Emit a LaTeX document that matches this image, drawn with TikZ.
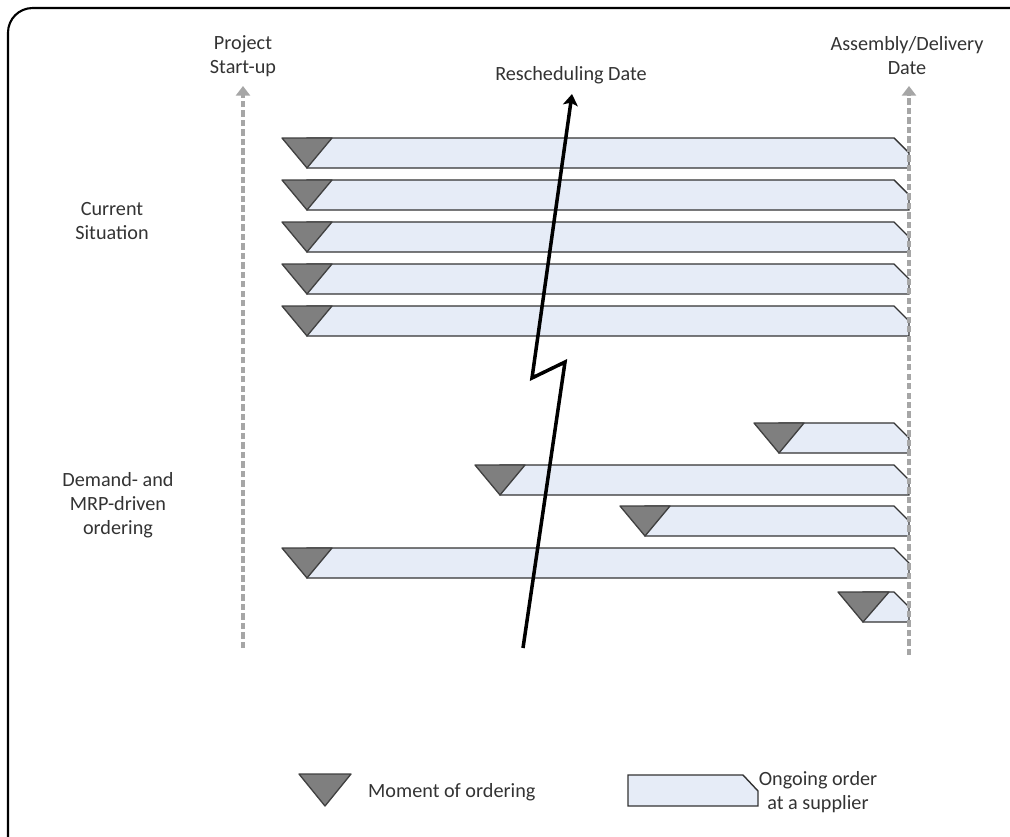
\documentclass[tikz,border=0pt]{standalone}
\usepackage{fontspec}
\setmainfont{Carlito}
\usetikzlibrary{arrows.meta}
\definecolor{barblue}{HTML}{E6ECF7}
\definecolor{markgray}{HTML}{7F7F7F}
\definecolor{txtgray}{HTML}{333333}
\definecolor{axisgray}{HTML}{A6A6A6}
\begin{document}
\begin{tikzpicture}
[x=0.02cm,y=-0.02cm,every node/.style={text=txtgray, align=center, font=\fontsize{11.5}{13.6}\selectfont},
orderbar/.style={draw=black!80, fill=barblue, line width=0.8pt, line join=miter},
ordermark/.style={draw=black!75, fill=markgray, line width=0.75pt, line join=round},
timeaxis/.style={axisgray, line width=2pt, dash pattern=on 3.6pt off 1.8pt, -{Triangle[width=8pt,length=5.5pt]}}]
\useasboundingbox (0,0) rectangle (1010,836);
\draw[line width=1.2pt, rounded corners=14pt] (8,840) -- (8,8) -- (1014,8);
% labels
\node (start) at (243,56) {Project\\Start-up};
\node (deliv) at (907,56) {Assembly/Delivery\\Date};
\node (resched) at (571,75) {Rescheduling Date};
\node (current) at (112,221) {Current\\Situation};
\node (demand) at (118,505) {Demand- and\\MRP-driven\\ordering};
% current situation
\draw[orderbar] (307,138) -- (894,138) -- (909,153) -- (909,168) -- (307,168) -- cycle;
\draw[ordermark] (282,138) -- (332,138) -- (307,168) -- cycle;
\draw[orderbar] (307,180) -- (894,180) -- (909,195) -- (909,210) -- (307,210) -- cycle;
\draw[ordermark] (282,180) -- (332,180) -- (307,210) -- cycle;
\draw[orderbar] (307,222) -- (894,222) -- (909,237) -- (909,252) -- (307,252) -- cycle;
\draw[ordermark] (282,222) -- (332,222) -- (307,252) -- cycle;
\draw[orderbar] (307,264) -- (894,264) -- (909,279) -- (909,294) -- (307,294) -- cycle;
\draw[ordermark] (282,264) -- (332,264) -- (307,294) -- cycle;
\draw[orderbar] (307,306) -- (894,306) -- (909,321) -- (909,336) -- (307,336) -- cycle;
\draw[ordermark] (282,306) -- (332,306) -- (307,336) -- cycle;
% demand- and mrp-driven
\draw[orderbar] (779,423) -- (894,423) -- (909,438) -- (909,453) -- (779,453) -- cycle;
\draw[ordermark] (754,423) -- (804,423) -- (779,453) -- cycle;
\draw[orderbar] (500,465) -- (894,465) -- (909,480) -- (909,495) -- (500,495) -- cycle;
\draw[ordermark] (475,465) -- (525,465) -- (500,495) -- cycle;
\draw[orderbar] (645,506) -- (894,506) -- (909,521) -- (909,536) -- (645,536) -- cycle;
\draw[ordermark] (620,506) -- (670,506) -- (645,536) -- cycle;
\draw[orderbar] (307,548) -- (894,548) -- (909,563) -- (909,578) -- (307,578) -- cycle;
\draw[ordermark] (282,548) -- (332,548) -- (307,578) -- cycle;
\draw[orderbar] (863,592) -- (894,592) -- (909,607) -- (909,622) -- (863,622) -- cycle;
\draw[ordermark] (838,592) -- (889,592) -- (863,622) -- cycle;
% time axes
\coordinate (s0) at (243,648);
\coordinate (s1) at (243,86);
\coordinate (d0) at (909,655);
\coordinate (d1) at (909,86);
\draw[timeaxis] (s0) -- (s1);
\draw[timeaxis] (d0) -- (d1);
% rescheduling cut
\coordinate (r0) at (523,648);
\coordinate (r1) at (565,362);
\coordinate (r2) at (532,378);
\coordinate (r3) at (572,94);
\draw[line width=2pt, line join=miter, -{Stealth[width=8.5pt,length=6.5pt,inset=1.5pt]}] (r0) -- (r1) -- (r2) -- (r3);
% legend
\draw[ordermark] (299,774) -- (351,774) -- (325,806) -- cycle;
\node[anchor=west] (moment) at (362,792) {Moment of ordering};
\draw[orderbar] (628,775) -- (743,775) -- (758,791) -- (758,806) -- (628,806) -- cycle;
\node (ongoing) at (818,792) {Ongoing order\\at a supplier};
\end{tikzpicture}
\end{document}
